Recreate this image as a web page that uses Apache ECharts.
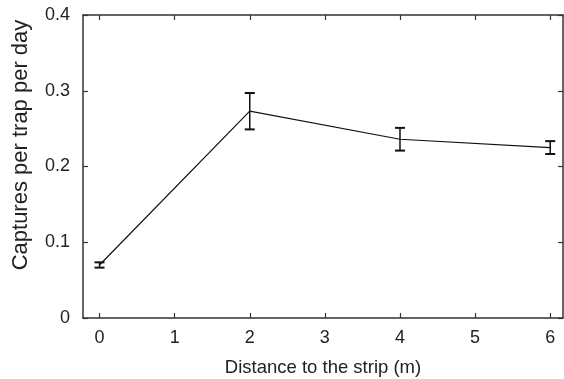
<!DOCTYPE html>
<html>
<head>
<meta charset="utf-8">
<script src="https://cdn.jsdelivr.net/npm/echarts@6/dist/echarts.min.js"></script>
<style>
  html, body { margin: 0; padding: 0; background: #fff; }
  #chart { width: 564px; height: 379px; }
</style>
</head>
<body>
<div id="chart"></div>
<script>
// distances (m) and mean captures with standard errors
const distances = [0, 2, 4, 6];
const captures = [0.070, 0.273, 0.236, 0.225];
const errors = [0.0035, 0.024, 0.015, 0.0085];
const xTicks = [0, 1, 2, 3, 4, 5, 6];
const yTitle = 'Captures per trap per day';
const xTitle = 'Distance to the strip (m)';

const axisColor = '#333';
const font = 'Liberation Sans, Arial, sans-serif';

let chart = echarts.init(document.getElementById('chart'));

let errData = distances.map((d, i) => [d, captures[i] - errors[i], captures[i] + errors[i]]);

let baseX = {
  type: 'value',
  min: -0.22,
  max: 6.17,
  interval: 1,
  axisLine: { show: true, onZero: false, lineStyle: { color: axisColor, width: 1.5 } },
  axisTick: {
    show: true, inside: true, length: 5,
    customValues: xTicks,
    lineStyle: { color: axisColor, width: 1.2 },
  },
  splitLine: { show: false },
};
let baseY = {
  type: 'value',
  min: 0,
  max: 0.4,
  interval: 0.1,
  axisLine: { show: true, onZero: false, lineStyle: { color: axisColor, width: 1.5 } },
  axisTick: {
    show: true, inside: true, length: 5,
    lineStyle: { color: axisColor, width: 1.2 },
  },
  splitLine: { show: false },
};

let option = {
  animation: false,
  grid: { left: 83, top: 15, right: 1, bottom: 61, outerBoundsMode: 'none', containLabel: false },
  graphic: [
    {
      // y title sits a bit above the plot's middle, as in the original
      type: 'text',
      x: 21,
      y: 145,
      rotation: Math.PI / 2,
      style: {
        text: yTitle,
        fontFamily: font,
        fontSize: 22,
        fill: '#222',
        align: 'center',
        verticalAlign: 'middle',
      },
    },
  ],
  xAxis: [
    Object.assign({}, baseX, {
      position: 'bottom',
      name: xTitle,
      nameLocation: 'middle',
      nameGap: 40,
      nameTextStyle: { fontFamily: font, fontSize: 18.5, color: '#222' },
      axisLabel: {
        show: true, margin: 11, fontFamily: font, fontSize: 18, color: '#222',
        customValues: xTicks,
        formatter: (v) => String(v),
      },
    }),
    Object.assign({}, baseX, {
      position: 'top',
      axisLabel: { show: false },
    }),
  ],
  yAxis: [
    Object.assign({}, baseY, {
      position: 'left',
      axisLabel: {
        show: true, margin: 13, fontFamily: font, fontSize: 18, color: '#222',
        formatter: (v) => (v === 0 ? '0' : v.toFixed(1)),
      },
    }),
    Object.assign({}, baseY, {
      position: 'right',
      axisLabel: { show: false },
    }),
  ],
  series: [
    {
      type: 'line',
      data: distances.map((d, i) => [d, captures[i]]),
      symbol: 'none',
      lineStyle: { color: '#111', width: 1.2 },
      z: 3,
    },
    {
      type: 'custom',
      data: errData,
      z: 4,
      renderItem: (params, api) => {
        let x = api.value(0);
        let lo = api.coord([x, api.value(1)]);
        let hi = api.coord([x, api.value(2)]);
        let half = 5;
        let style = { stroke: '#111', lineWidth: 2 };
        return {
          type: 'group',
          children: [
            { type: 'line', shape: { x1: lo[0], y1: lo[1], x2: hi[0], y2: hi[1] }, style: { stroke: '#111', lineWidth: 1.5 } },
            { type: 'line', shape: { x1: lo[0] - half, y1: lo[1], x2: lo[0] + half, y2: lo[1] }, style: style },
            { type: 'line', shape: { x1: hi[0] - half, y1: hi[1], x2: hi[0] + half, y2: hi[1] }, style: style },
          ],
        };
      },
    },
  ],
};

chart.setOption(option);
</script>
</body>
</html>
